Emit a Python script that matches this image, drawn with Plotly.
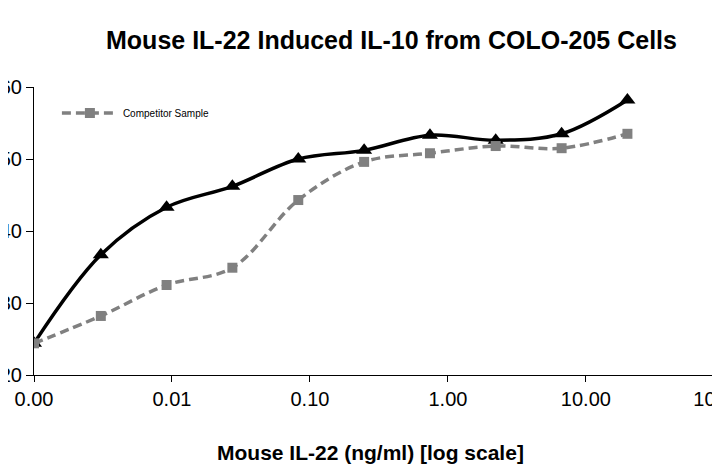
import plotly.graph_objects as go

# Data
conc = [0.001, 0.00305, 0.00914, 0.0274, 0.0823, 0.247, 0.741, 2.22, 6.67, 20.0]
mouse_il22 = [24.4, 36.7, 43.3, 46.2, 50.0, 51.2, 53.3, 52.6, 53.5, 58.2]
competitor = [24.4, 28.2, 32.5, 34.9, 44.3, 49.6, 50.8, 51.8, 51.5, 53.5]

x_tickvals = [0.001, 0.01, 0.1, 1, 10, 100]
x_ticktext = ["0.00", "0.01", "0.10", "1.00", "10.00", "100.00"]
y_tickvals = [20, 30, 40, 50, 60]

FONT = "Arial, Liberation Sans, sans-serif"

fig = go.Figure()
fig.add_trace(go.Scatter(
    x=conc, y=mouse_il22, mode="lines+markers", name="Mouse IL-22",
    line=dict(color="black", width=3.5, shape="spline", smoothing=1),
    marker=dict(symbol="triangle-up", size=14, color="black"),
    showlegend=False,
))
fig.add_trace(go.Scatter(
    x=conc, y=competitor, mode="lines+markers", name="Competitor Sample",
    line=dict(color="#808080", width=3.5, dash="9px,5px", shape="spline", smoothing=1),
    marker=dict(symbol="square", size=10, color="#808080"),
))

fig.update_layout(
    width=720, height=467,
    margin=dict(l=26, r=0, t=79, b=100),
    paper_bgcolor="white", plot_bgcolor="white",
    font=dict(family=FONT, color="black"),
    title=dict(text="<b>Mouse IL-22 Induced IL-10 from COLO-205 Cells</b>",
               x=(391.5-8)/720, xanchor="center", xref="container",
               y=1-32/467, yanchor="middle", yref="container",
               font=dict(size=25, family=FONT, color="black")),
    legend=dict(x=0.033, y=0.91, xanchor="left", yanchor="middle", itemwidth=56,
                bgcolor="rgba(0,0,0,0)", font=dict(size=10, family=FONT)),
    annotations=[dict(text="<b>Mouse IL-22 (ng/ml) [log scale]</b>",
                      xref="paper", yref="paper", x=(370-34)/694, y=(375-452)/288,
                      xanchor="center", yanchor="middle", showarrow=False,
                      font=dict(size=21, family=FONT, color="black"))],
)
fig.update_xaxes(type="log", range=[-3, 2.03], tickvals=x_tickvals, ticktext=x_ticktext,
                 showgrid=False, zeroline=False, showline=True, linecolor="black",
                 linewidth=1, ticks="outside", ticklen=6, tickcolor="black",
                 tickfont=dict(size=20, family=FONT), automargin=False,
                 ticklabeloverflow="allow")
fig.update_yaxes(range=[20, 60], tickvals=y_tickvals, showgrid=False, zeroline=False,
                 showline=True, linecolor="black", linewidth=1, ticks="outside",
                 ticklen=7, tickcolor="black", tickfont=dict(size=20, family=FONT),
                 ticklabelstandoff=0, automargin=False, ticklabeloverflow="allow")

fig.write_html("out.html")
